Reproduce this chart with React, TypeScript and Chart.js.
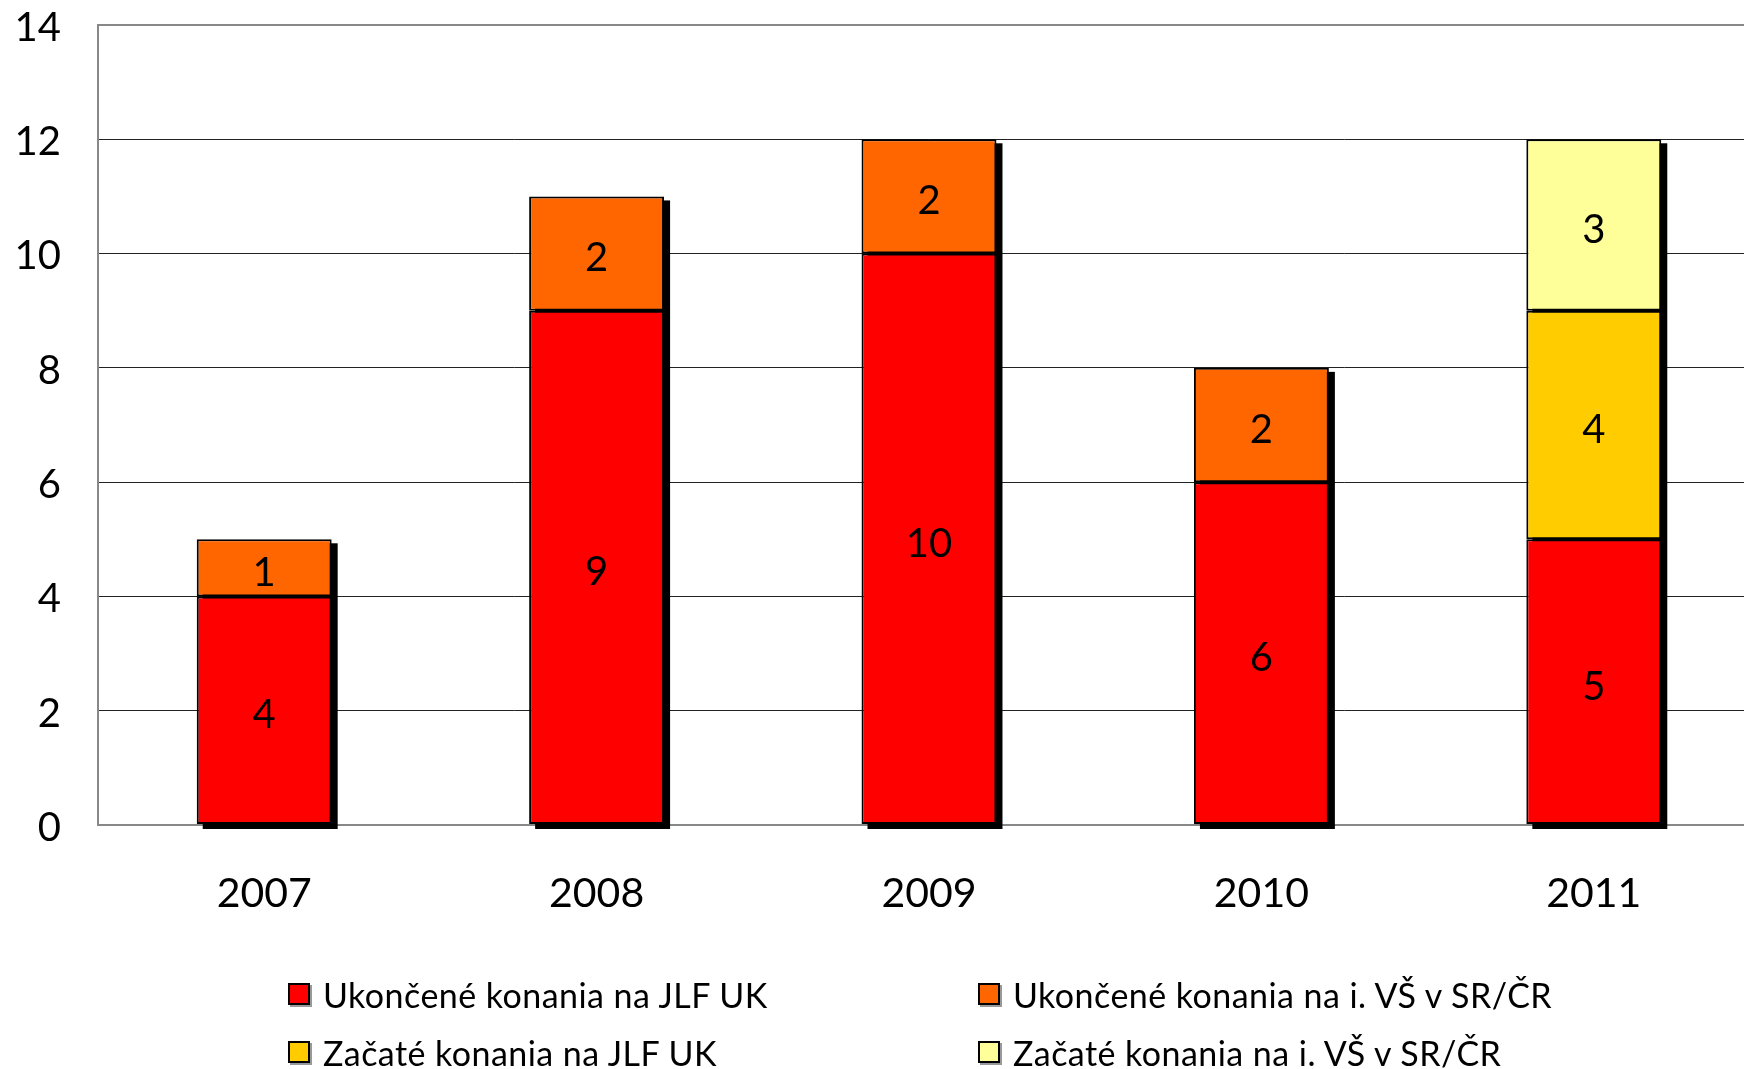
import React, { useEffect, useRef } from "react";
import { Chart, registerables } from "chart.js";

Chart.register(...registerables);

const categories = ["2007", "2008", "2009", "2010", "2011"];
const ukonceneJLF = [4, 9, 10, 6, 5];
const ukonceneIVS = [1, 2, 2, 2, null];
const zacateJLF = [null, null, null, null, 4];
const zacateIVS = [null, null, null, null, 3];
const yTicks = [0, 2, 4, 6, 8, 10, 12, 14];

const seriesNames = [
  "Ukončené konania na JLF UK",
  "Ukončené konania na i. VŠ v SR/ČR",
  "Začaté konania na JLF UK",
  "Začaté konania na i. VŠ v SR/ČR",
];
const seriesColors = ["#FF0000", "#FF6600", "#FFCC00", "#FFFF99"];
const seriesData = [ukonceneJLF, ukonceneIVS, zacateJLF, zacateIVS];

const FONT = "Lato, 'Open Sans', sans-serif";

const shadowPlugin = {
  id: "barShadow",
  beforeDatasetsDraw(chart: any) {
    const ctx = chart.ctx;
    const yScale = chart.scales.y;
    const base = yScale.getPixelForValue(0);
    const n = chart.data.labels.length;
    ctx.save();
    ctx.fillStyle = "#000000";
    for (let i = 0; i < n; i++) {
      let top = Infinity;
      let x = 0;
      let w = 0;
      chart.data.datasets.forEach((ds: any, di: number) => {
        const el = chart.getDatasetMeta(di).data[i];
        if (el && ds.data[i] != null) {
          const p = el.getProps(["x", "y", "width"], true);
          top = Math.min(top, p.y);
          x = p.x;
          w = p.width;
        }
      });
      if (top !== Infinity) {
        ctx.fillRect(x - w / 2 + 6, top + 4, w, base - top);
      }
    }
    ctx.restore();
  },
};

const labelPlugin = {
  id: "barLabels",
  afterDatasetsDraw(chart: any) {
    const ctx = chart.ctx;
    ctx.save();
    ctx.fillStyle = "#000000";
    ctx.font = `40px ${FONT}`;
    ctx.textAlign = "center";
    ctx.textBaseline = "middle";
    chart.data.datasets.forEach((ds: any, di: number) => {
      chart.getDatasetMeta(di).data.forEach((el: any, i: number) => {
        const v = ds.data[i];
        if (v == null) return;
        const p = el.getProps(["x", "y", "base"], true);
        ctx.fillText(String(v), p.x, (p.y + p.base) / 2 + 5);
      });
    });
    ctx.restore();
  },
};

export default function App() {
  const ref = useRef<HTMLCanvasElement | null>(null);

  useEffect(() => {
    if (!ref.current) return;
    const chart = new Chart(ref.current, {
      type: "bar",
      data: {
        labels: categories,
        datasets: seriesData.map((d, i) => ({
          label: seriesNames[i],
          data: d,
          backgroundColor: seriesColors[i],
          borderColor: "#000000",
          borderWidth: 2,
          borderSkipped: false,
          barPercentage: 0.406,
          categoryPercentage: 1,
        })),
      },
      options: {
        responsive: false,
        animation: false,
        layout: { padding: { top: 25, left: 0, right: 0, bottom: 0 } },
        plugins: {
          legend: { display: false },
          tooltip: { enabled: false },
        },
        scales: {
          x: {
            stacked: true,
            grid: { display: false, drawTicks: false },
            border: { display: true, color: "#888888", width: 2 },
            ticks: {
              font: { family: FONT, size: 41 },
              color: "#000000",
              padding: 44,
              maxRotation: 0,
              autoSkip: false,
            },
            afterFit(scale: any) {
              scale.height = 244;
              scale.paddingLeft = 0;
              scale.paddingRight = 0;
            },
          },
          y: {
            stacked: true,
            min: 0,
            max: 14,
            afterBuildTicks(scale: any) {
              scale.ticks = yTicks.map((v) => ({ value: v }));
            },
            grid: {
              drawTicks: false,
              color: (c: any) =>
                c.tick && (c.tick.value === 0 || c.tick.value === 14) ? "#888888" : "#222222",
              lineWidth: (c: any) =>
                c.tick && (c.tick.value === 0 || c.tick.value === 14) ? 2 : 1,
            },
            border: { display: true, color: "#888888", width: 2 },
            ticks: {
              font: { family: FONT, size: 40 },
              color: "#000000",
              padding: 37,
              labelOffset: 3,
            },
            afterFit(scale: any) {
              scale.width = 98;
              scale.paddingTop = 0;
              scale.paddingBottom = 0;
            },
          },
        },
      },
      plugins: [shadowPlugin, labelPlugin],
    } as any);
    return () => chart.destroy();
  }, []);

  const legendPos = [
    { left: 288, top: 994 },
    { left: 978, top: 994 },
    { left: 288, top: 1052 },
    { left: 978, top: 1052 },
  ];

  return (
    <div
      style={{
        position: "fixed",
        left: 0,
        top: 0,
        width: 1744,
        height: 1069,
        overflow: "hidden",
        background: "#ffffff",
      }}
    >
      <canvas ref={ref} width={1760} height={1069} style={{ display: "block" }} />
      {seriesNames.map((name, i) => (
        <div
          key={name}
          style={{
            position: "absolute",
            left: legendPos[i].left,
            top: legendPos[i].top - 20,
            height: 40,
            display: "flex",
            alignItems: "center",
            fontFamily: FONT,
            fontSize: 34,
            letterSpacing: 0.45,
            color: "#000",
            whiteSpace: "nowrap",
          }}
        >
          <span
            style={{
              display: "inline-block",
              flex: "none",
              width: 18,
              height: 18,
              background: seriesColors[i],
              border: "2px solid #000",
              boxShadow: "2px 2px 0 #999",
              marginRight: 13,
            }}
          />
          <span>{name}</span>
        </div>
      ))}
    </div>
  );
}
